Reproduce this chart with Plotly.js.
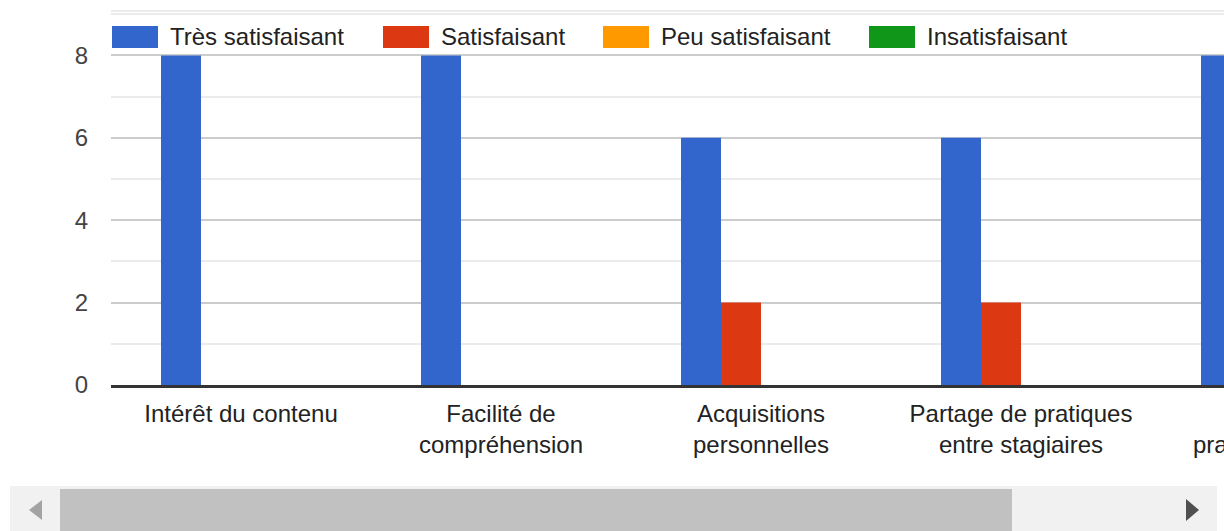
<!DOCTYPE html>
<html>
<head>
<meta charset="utf-8">
<script src="https://cdn.plot.ly/plotly-3.0.1.min.js"></script>
<style>
  html, body { margin: 0; padding: 0; background: #fff; overflow: hidden; width: 1224px; height: 531px; }
  #chart { position: absolute; left: 0; top: 0; width: 1530px; height: 531px; }
  .track { position: absolute; left: 10px; top: 486px; width: 1207px; height: 45px; background: #f1f1f1; }
  .thumb { position: absolute; left: 60px; top: 489px; width: 952px; height: 42px; background: #c1c1c1; }
  .arrow-l { position: absolute; left: 29px; top: 500px; width: 0; height: 0;
             border-top: 10.5px solid transparent; border-bottom: 10.5px solid transparent; border-right: 13px solid #a3a3a3; }
  .arrow-r { position: absolute; left: 1186px; top: 499px; width: 0; height: 0;
             border-top: 11px solid transparent; border-bottom: 11px solid transparent; border-left: 13px solid #505050; }
</style>
</head>
<body>
<div id="chart"></div>
<div class="track"></div>
<div class="thumb"></div>
<div class="arrow-l"></div>
<div class="arrow-r"></div>
<script>
// ---- data ----
const categories = [
  'Intérêt du contenu',
  'Facilité de<br>compréhension',
  'Acquisitions<br>personnelles',
  'Partage de pratiques<br>entre stagiaires',
  'Utilité des<br>pratiques réelles'
];
const seriesNames = ['Très satisfaisant', 'Satisfaisant', 'Peu satisfaisant', 'Insatisfaisant'];
const tresSatisfaisant = [8, 8, 6, 6, 8];
const satisfaisant     = [0, 0, 2, 2, 0];
const peuSatisfaisant  = [0, 0, 0, 0, 0];
const insatisfaisant   = [0, 0, 0, 0, 0];
const yTickVals = [0, 2, 4, 6, 8];
const yTickText = ['0', '2', '4', '6', '8'];

// ---- style ----
const colors = ['#3366cc', '#dc3912', '#ff9900', '#109618'];
const FONT = 'Liberation Sans, Arial, sans-serif';
const W = 1530, H = 531;
const M = { l: 111, r: 119, t: 11, b: 146 };
const plotW = W - M.l - M.r, plotH = H - M.t - M.b;
const px2x = p => (p - M.l) / plotW;
const px2y = p => (H - M.b - p) / plotH;

const allSeries = [tresSatisfaisant, satisfaisant, peuSatisfaisant, insatisfaisant];
const traces = allSeries.map((vals, i) => ({
  type: 'bar',
  name: seriesNames[i],
  x: categories,
  y: vals,
  marker: { color: colors[i] },
  hoverinfo: 'none',
  showlegend: false
}));

// custom legend (large swatches like the original)
const legendSwatchX = [112, 383, 603, 869];
const shapes = [
  { type: 'line', xref: 'paper', yref: 'paper', x0: 0, x1: 1, y0: 1, y1: 1,
    line: { color: '#ebebeb', width: 2 } }
];
const annotations = [];
seriesNames.forEach((n, i) => {
  const x0 = legendSwatchX[i];
  shapes.push({ type: 'rect', xref: 'paper', yref: 'paper',
    x0: px2x(x0), x1: px2x(x0 + 46), y0: px2y(48), y1: px2y(26),
    fillcolor: colors[i], line: { width: 0 } });
  annotations.push({ xref: 'paper', yref: 'paper', x: px2x(x0 + 56), y: px2y(37),
    xanchor: 'left', yanchor: 'middle', showarrow: false, text: n,
    font: { family: FONT, size: 24, color: '#222' } });
});

const layout = {
  width: W, height: H,
  margin: M,
  paper_bgcolor: '#fff', plot_bgcolor: '#fff',
  font: { family: FONT, size: 24, color: '#222' },
  barmode: 'group',
  bargap: 100 / 260,
  bargroupgap: 0,
  showlegend: false,
  xaxis: {
    type: 'category',
    showgrid: false,
    showline: true, linecolor: '#333', linewidth: 3,
    ticks: '',
    tickfont: { family: FONT, size: 24, color: '#222' },
    ticklabelstandoff: 5,
    fixedrange: true
  },
  yaxis: {
    range: [0, 9.08],
    tickvals: yTickVals, ticktext: yTickText,
    showgrid: true, gridcolor: '#cccccc', gridwidth: 2,
    minor: { dtick: 1, tick0: 0, showgrid: true, gridcolor: '#ebebeb', gridwidth: 2, ticks: '' },
    zeroline: false,
    showline: false,
    ticks: '',
    tickfont: { family: FONT, size: 24, color: '#444' },
    ticklabelstandoff: 22,
    fixedrange: true
  },
  shapes: shapes,
  annotations: annotations
};

Plotly.newPlot('chart', traces, layout, { displayModeBar: false, staticPlot: true });
</script>
</body>
</html>
